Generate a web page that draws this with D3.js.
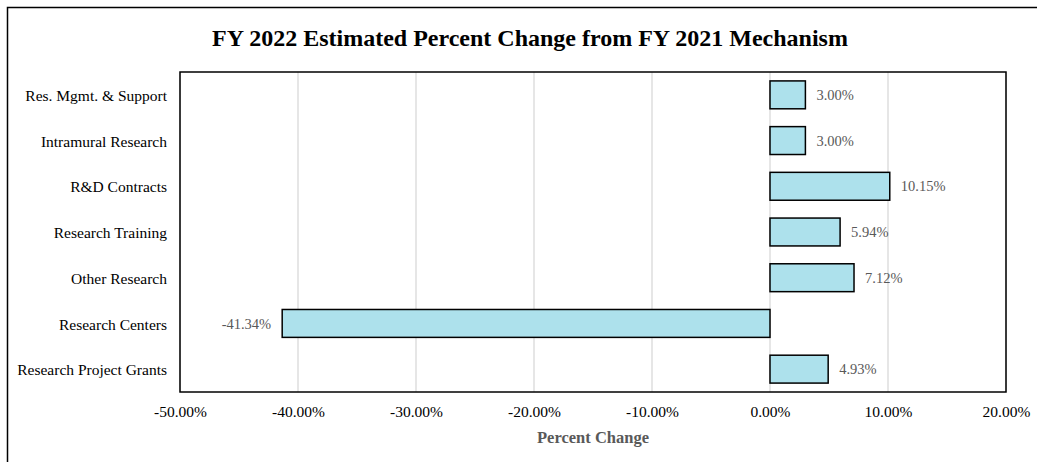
<!DOCTYPE html>
<html>
<head>
<meta charset="utf-8">
<script src="https://cdn.jsdelivr.net/npm/d3@7"></script>
<style>
  body { margin: 0; background: #fff; }
  text { font-family: "Liberation Serif", "Times New Roman", serif; }
</style>
</head>
<body>
<div class="chart"></div>
<script>
// Data
var categories = ["Res. Mgmt. & Support", "Intramural Research", "R&D Contracts",
  "Research Training", "Other Research", "Research Centers", "Research Project Grants"];
var values = [3.00, 3.00, 10.15, 5.94, 7.12, -41.34, 4.93];
var xTicks = [-50, -40, -30, -20, -10, 0, 10, 20];

var svgWidth = 1037;
var svgHeight = 462;

var margin = { top: 72, right: 31, bottom: 70, left: 180 };
var width = svgWidth - margin.left - margin.right;
var height = svgHeight - margin.top - margin.bottom;

var svg = d3.select(".chart")
  .append("svg")
  .attr("width", svgWidth)
  .attr("height", svgHeight);

// outer frame (runs past the picture on the right and bottom)
svg.append("rect")
  .attr("x", 7.5).attr("y", 7.5)
  .attr("width", 1100).attr("height", 600)
  .attr("fill", "none")
  .attr("stroke", "#000")
  .attr("stroke-width", 1.5);

svg.append("text")
  .attr("x", 530)
  .attr("y", 46)
  .attr("text-anchor", "middle")
  .attr("font-size", 24)
  .attr("font-weight", "bold")
  .attr("fill", "#000")
  .text("FY 2022 Estimated Percent Change from FY 2021 Mechanism");

var chartGroup = svg.append("g")
  .attr("transform", `translate(${margin.left}, ${margin.top})`);

var x = d3.scaleLinear().domain([-50, 20]).range([0, width]);
var y = d3.scaleBand().domain(categories).range([0, height]).paddingInner(0.39).paddingOuter(0.195);

// gridlines
chartGroup.selectAll(".grid")
  .data(xTicks)
  .enter()
  .append("line")
  .attr("x1", d => x(d)).attr("x2", d => x(d))
  .attr("y1", 0).attr("y2", height)
  .attr("stroke", "#d9d9d9")
  .attr("stroke-width", 1.3);

// bars
var rows = categories.map((c, i) => ({ cat: c, val: values[i] }));

chartGroup.selectAll(".bar")
  .data(rows)
  .enter()
  .append("rect")
  .attr("x", d => x(Math.min(0, d.val)))
  .attr("y", d => y(d.cat))
  .attr("width", d => Math.abs(x(d.val) - x(0)))
  .attr("height", y.bandwidth())
  .attr("fill", "#ade1ec")
  .attr("stroke", "#000")
  .attr("stroke-width", 1.5);

// data labels
chartGroup.selectAll(".lbl")
  .data(rows)
  .enter()
  .append("text")
  .attr("x", d => d.val >= 0 ? x(d.val) + 11 : x(d.val) - 11)
  .attr("y", d => y(d.cat) + y.bandwidth() / 2)
  .attr("dy", "0.35em")
  .attr("text-anchor", d => d.val >= 0 ? "start" : "end")
  .attr("font-size", 14.5)
  .attr("fill", "#595959")
  .text(d => d.val.toFixed(2) + "%");

// plot border
chartGroup.append("rect")
  .attr("width", width).attr("height", height)
  .attr("fill", "none")
  .attr("stroke", "#000")
  .attr("stroke-width", 1.5);

// axes
var bottomAxis = d3.axisBottom(x).tickValues(xTicks).tickSize(0).tickPadding(14)
  .tickFormat(d => d.toFixed(2) + "%");
var gx = chartGroup.append("g")
  .attr("transform", `translate(0, ${height})`)
  .call(bottomAxis);
gx.select(".domain").remove();
gx.selectAll("text").attr("font-size", 15.5).attr("fill", "#000")
  .style("font-family", "'Liberation Serif', serif");

var leftAxis = d3.axisLeft(y).tickSize(0).tickPadding(13);
var gy = chartGroup.append("g").call(leftAxis);
gy.select(".domain").remove();
gy.selectAll("text").attr("font-size", 15.5).attr("fill", "#000")
  .attr("dy", "0.4em")
  .style("font-family", "'Liberation Serif', serif");

// axis title
chartGroup.append("text")
  .attr("x", width / 2)
  .attr("y", height + 51)
  .attr("text-anchor", "middle")
  .attr("font-size", 16.5)
  .attr("font-weight", "bold")
  .attr("fill", "#595959")
  .text("Percent Change");
</script>
</body>
</html>
